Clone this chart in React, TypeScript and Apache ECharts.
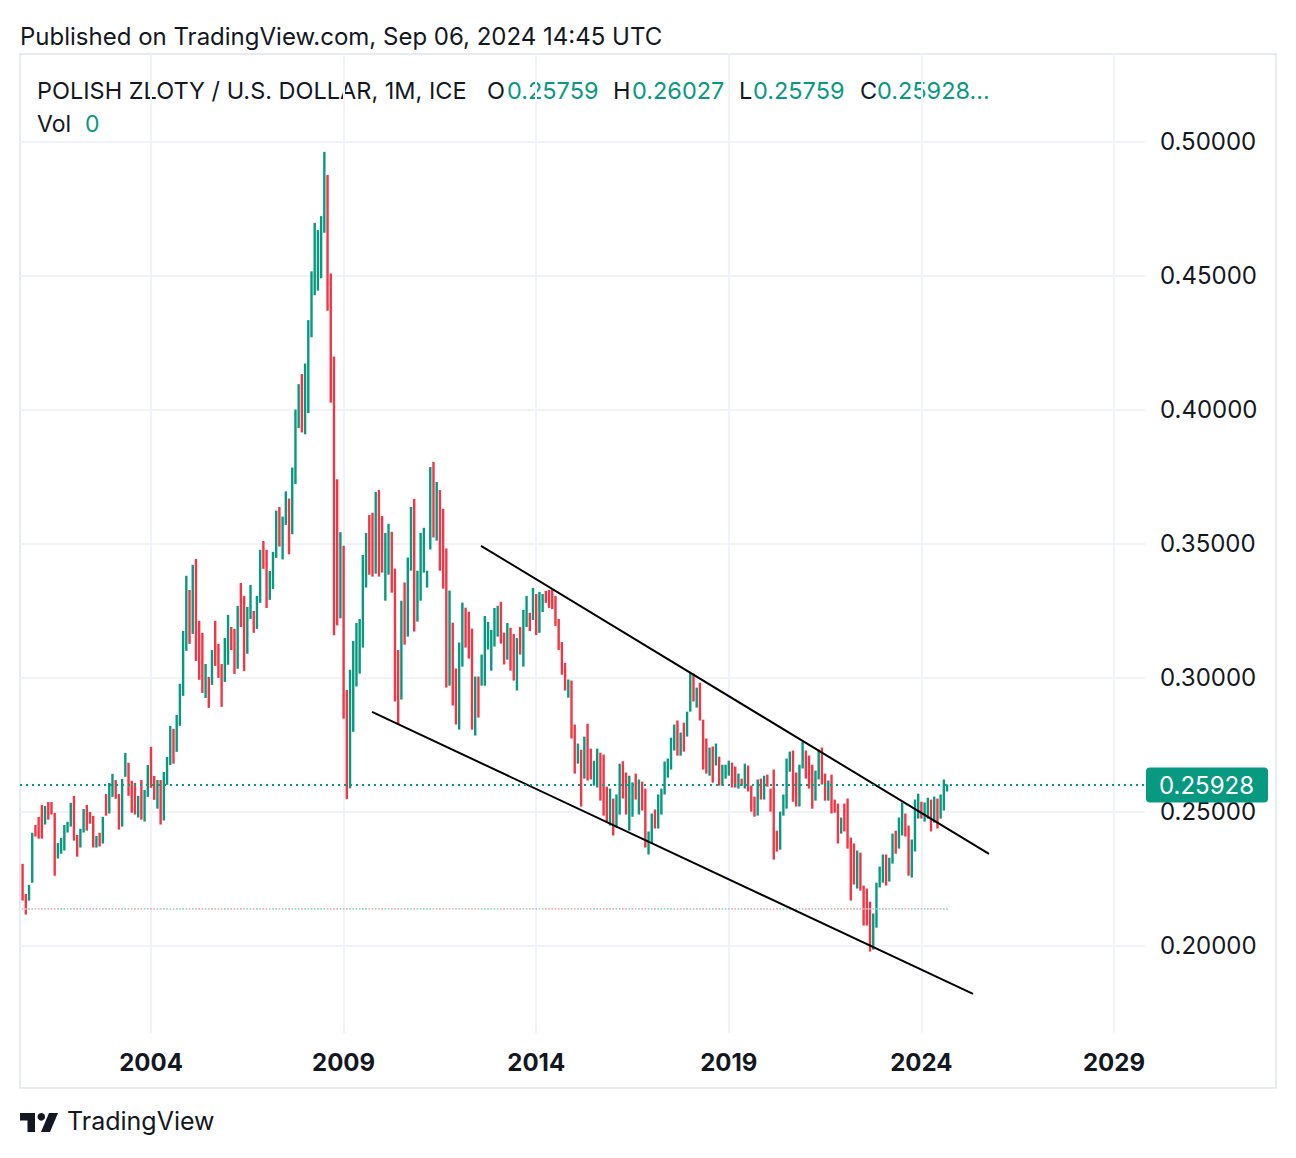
import React, { useEffect, useRef } from "react";
import * as echarts from "echarts";

// ---------- data ----------
const START_YEAR = 2000;
const START_MONTH = 9; // first monthly bar: Sep 2000

const highs = [
  0.2306, 0.2194, 0.2228, 0.2422, 0.2451, 0.2481, 0.2526, 0.2522, 0.2537, 0.2537,
  0.2496, 0.2384, 0.2403, 0.2451, 0.2463, 0.2534, 0.256, 0.2414, 0.2437, 0.2511,
  0.2526, 0.25, 0.2485, 0.241, 0.2422, 0.2481, 0.2567, 0.2608, 0.2642, 0.2619,
  0.2567, 0.2623, 0.272, 0.2683, 0.2616, 0.2608, 0.256, 0.2619, 0.2582, 0.2675,
  0.2743, 0.2634, 0.2619, 0.2619, 0.2649, 0.2705, 0.2821, 0.281, 0.2862, 0.2978,
  0.3175, 0.3381, 0.3328, 0.3422, 0.3444, 0.3213, 0.3168, 0.3052, 0.3004, 0.3104,
  0.3213, 0.3127, 0.3052, 0.3149, 0.3235, 0.319, 0.3183, 0.3269, 0.3354, 0.3306,
  0.3265, 0.3347, 0.325, 0.3306, 0.3478, 0.3511, 0.3478, 0.3399, 0.347, 0.3624,
  0.3638, 0.3602, 0.3696, 0.3669, 0.3785, 0.4001, 0.4096, 0.4134, 0.4173, 0.4335,
  0.4517, 0.4698, 0.4671, 0.4723, 0.4963, 0.4877, 0.4509, 0.4199, 0.3741, 0.3544,
  0.3493, 0.2955, 0.303, 0.3138, 0.3205, 0.322, 0.3459, 0.3541, 0.3608, 0.3616,
  0.3694, 0.3701, 0.3604, 0.3541, 0.3575, 0.3545, 0.3408, 0.3104, 0.3288, 0.3356,
  0.3449, 0.3638, 0.3668, 0.34, 0.3541, 0.356, 0.34, 0.3787, 0.3806, 0.3731,
  0.3701, 0.3631, 0.3483, 0.3326, 0.3206, 0.3035, 0.3132, 0.3281, 0.3262, 0.3247,
  0.3184, 0.3005, 0.3005, 0.3087, 0.3231, 0.3209, 0.3179, 0.3261, 0.3269, 0.3284,
  0.3169, 0.3205, 0.3187, 0.3164, 0.3149, 0.319, 0.3254, 0.3306, 0.3243, 0.3336,
  0.3313, 0.3321, 0.3313, 0.3325, 0.3328, 0.3332, 0.3306, 0.322, 0.3134, 0.3056,
  0.2994, 0.299, 0.2826, 0.2755, 0.2732, 0.2781, 0.2829, 0.2736, 0.2691, 0.2736,
  0.2721, 0.2714, 0.2594, 0.2587, 0.255, 0.2565, 0.268, 0.2689, 0.2647, 0.2635,
  0.261, 0.2643, 0.2621, 0.2613, 0.2587, 0.2427, 0.2494, 0.2509, 0.2565, 0.2587,
  0.2688, 0.2699, 0.2777, 0.2826, 0.2841, 0.2796, 0.2833, 0.2874, 0.302, 0.3016,
  0.2964, 0.2982, 0.2844, 0.2774, 0.274, 0.2744, 0.2755, 0.2706, 0.2676, 0.2676,
  0.2691, 0.2684, 0.2669, 0.2643, 0.2624, 0.268, 0.2673, 0.2598, 0.2557, 0.2621,
  0.2624, 0.2635, 0.2639, 0.2587, 0.2658, 0.243, 0.2501, 0.2565, 0.2699, 0.2725,
  0.2729, 0.2647, 0.2676, 0.2762, 0.2729, 0.271, 0.2676, 0.2654, 0.2732, 0.274,
  0.2643, 0.2617, 0.2639, 0.2546, 0.2531, 0.2479, 0.2531, 0.255, 0.2404, 0.2382,
  0.2356, 0.2348, 0.2225, 0.2214, 0.2165, 0.2121, 0.2236, 0.2296, 0.2341, 0.2341,
  0.2329, 0.2419, 0.243, 0.2479, 0.2535, 0.2494, 0.2449, 0.2397, 0.2546, 0.2568,
  0.2538, 0.2535, 0.2553, 0.2546, 0.2557, 0.255, 0.2565, 0.2621, 0.2603,
];

const lows = [
  0.2169, 0.2117, 0.2169, 0.2236, 0.2408, 0.24, 0.24, 0.2453, 0.2471, 0.249,
  0.2262, 0.2326, 0.2344, 0.2356, 0.2423, 0.2445, 0.2393, 0.2333, 0.2367, 0.2423,
  0.243, 0.2456, 0.2367, 0.2367, 0.2371, 0.2382, 0.2486, 0.2494, 0.2556, 0.2549,
  0.2434, 0.2445, 0.2631, 0.256, 0.2497, 0.249, 0.2479, 0.2471, 0.2464, 0.2556,
  0.259, 0.2545, 0.2512, 0.2453, 0.2468, 0.2601, 0.2675, 0.268, 0.2724, 0.2821,
  0.2933, 0.3101, 0.3127, 0.3164, 0.3063, 0.2993, 0.2944, 0.2925, 0.2888, 0.2974,
  0.3045, 0.3, 0.2892, 0.2985, 0.3049, 0.3104, 0.3015, 0.3034, 0.319, 0.3026,
  0.309, 0.322, 0.3168, 0.3183, 0.328, 0.3407, 0.3261, 0.3291, 0.3332, 0.3448,
  0.349, 0.3442, 0.3571, 0.3461, 0.3536, 0.3723, 0.3932, 0.3916, 0.3909, 0.3988,
  0.4271, 0.4428, 0.4445, 0.4491, 0.4661, 0.437, 0.4027, 0.3159, 0.3196, 0.3222,
  0.2848, 0.2548, 0.2588, 0.2799, 0.2968, 0.3016, 0.3113, 0.3337, 0.3385, 0.3378,
  0.3389, 0.3378, 0.3393, 0.3288, 0.3385, 0.3318, 0.2912, 0.2826, 0.2919, 0.3124,
  0.3154, 0.34, 0.3173, 0.321, 0.3288, 0.3393, 0.3337, 0.3479, 0.3524, 0.3512,
  0.34, 0.3333, 0.2964, 0.2971, 0.2897, 0.2826, 0.2807, 0.3042, 0.3113, 0.3072,
  0.2807, 0.2785, 0.2852, 0.2971, 0.2971, 0.3106, 0.3027, 0.3117, 0.3154, 0.3128,
  0.305, 0.3068, 0.3027, 0.299, 0.2953, 0.3087, 0.3042, 0.319, 0.3175, 0.3216,
  0.316, 0.3168, 0.3246, 0.328, 0.3261, 0.3257, 0.3194, 0.3104, 0.3012, 0.2953,
  0.2926, 0.2774, 0.2643, 0.268, 0.252, 0.2624, 0.2617, 0.2621, 0.2598, 0.2591,
  0.2542, 0.2486, 0.2464, 0.2449, 0.2412, 0.2441, 0.249, 0.255, 0.249, 0.243,
  0.2482, 0.2546, 0.249, 0.2505, 0.2367, 0.2341, 0.2382, 0.2438, 0.2438, 0.249,
  0.2565, 0.2628, 0.2658, 0.2729, 0.271, 0.271, 0.2725, 0.2781, 0.2874, 0.2912,
  0.2889, 0.2841, 0.2658, 0.2643, 0.2635, 0.2609, 0.2673, 0.2598, 0.2598, 0.2624,
  0.2635, 0.2591, 0.2591, 0.2587, 0.2598, 0.2587, 0.2576, 0.2501, 0.2482, 0.2486,
  0.2546, 0.2546, 0.2594, 0.2501, 0.2322, 0.2352, 0.2359, 0.2486, 0.2512, 0.265,
  0.2538, 0.252, 0.252, 0.2662, 0.2624, 0.2587, 0.2512, 0.2542, 0.2621, 0.2602,
  0.2542, 0.2542, 0.2494, 0.2497, 0.2382, 0.2419, 0.2427, 0.2363, 0.2169, 0.2229,
  0.2214, 0.2206, 0.2076, 0.2076, 0.1979, 0.1986, 0.2068, 0.2218, 0.2236, 0.2225,
  0.224, 0.2307, 0.2344, 0.2363, 0.2412, 0.2408, 0.2262, 0.2255, 0.2352, 0.2475,
  0.2475, 0.2464, 0.2475, 0.2427, 0.246, 0.2438, 0.2475, 0.2505, 0.2576,
];

// 1 = month closed up (green), 0 = closed down (red)
const rising = [
  0, 0, 1, 1, 0, 0, 0, 1, 0, 0,
  0, 1, 1, 1, 1, 1, 0, 0, 1, 1,
  0, 0, 0, 1, 0, 1, 0, 1, 1, 0,
  0, 1, 1, 0, 0, 0, 1, 0, 1, 1,
  0, 0, 1, 0, 1, 1, 1, 0, 1, 1,
  1, 1, 0, 1, 0, 0, 0, 1, 0, 1,
  0, 0, 0, 1, 1, 0, 0, 1, 0, 0,
  1, 1, 0, 1, 1, 0, 0, 1, 1, 1,
  0, 1, 1, 0, 1, 1, 1, 0, 1, 1,
  1, 1, 1, 1, 1, 0, 0, 0, 0, 1,
  0, 0, 1, 1, 1, 1, 1, 1, 0, 0,
  1, 0, 0, 1, 1, 0, 0, 0, 1, 0,
  1, 1, 0, 1, 1, 1, 1, 1, 0, 1,
  0, 0, 0, 1, 0, 0, 1, 1, 0, 0,
  0, 1, 0, 1, 1, 1, 1, 1, 1, 0,
  0, 1, 0, 0, 1, 0, 1, 1, 0, 1,
  0, 1, 1, 0, 0, 0, 0, 0, 0, 0,
  1, 0, 0, 1, 0, 1, 0, 0, 1, 1,
  0, 0, 0, 1, 0, 1, 1, 0, 0, 1,
  1, 0, 1, 0, 0, 1, 1, 0, 1, 1,
  1, 1, 1, 1, 0, 1, 0, 1, 1, 0,
  1, 0, 0, 0, 1, 0, 1, 0, 1, 1,
  1, 0, 0, 1, 0, 1, 0, 0, 0, 1,
  0, 1, 0, 0, 0, 0, 1, 1, 1, 1,
  0, 0, 1, 1, 0, 0, 0, 1, 1, 0,
  0, 1, 0, 0, 0, 1, 0, 0, 0, 0,
  1, 0, 0, 0, 0, 1, 1, 1, 1, 0,
  1, 1, 0, 1, 1, 0, 0, 1, 1, 1,
  0, 1, 1, 0, 1, 0, 1, 1, 1,
];

const lastBar = { open: 0.25759, high: 0.26027, low: 0.25759, close: 0.25928 };
const volumeBase = 0.2138; // zero-volume baseline of the overlaid volume pane
const yTicks = [0.2, 0.25, 0.3, 0.35, 0.4, 0.45, 0.5];
const xTicks = [2004, 2009, 2014, 2019, 2024, 2029];
const upperChannel = [
  [2012.567, 0.3493],
  [2025.755, 0.2343],
];
const lowerChannel = [
  [2009.737, 0.2873],
  [2025.34, 0.1821],
];

// ---------- styling ----------
const GREEN = "#089981";
const RED = "#F23645";
const TEXT = "#131722";
const FONT = 'Inter, "Noto Sans", Roboto, sans-serif';

export default function App() {
  const ref = useRef<HTMLDivElement>(null);

  useEffect(() => {
    if (!ref.current) return;
    const chart = echarts.init(ref.current, null, { renderer: "svg" });

    const barData = highs.map((h, i) => [
      START_YEAR + (START_MONTH - 1 + i) / 12,
      h,
      lows[i],
      rising[i],
    ]);

    const txt = (text: string, x: number, y: number, opts: any = {}) => ({
      type: "text",
      x,
      y,
      silent: true,
      style: {
        text,
        fill: opts.fill || TEXT,
        fontSize: opts.fontSize || 23.5,
        fontFamily: FONT,
        fontWeight: opts.fontWeight || "normal",
        verticalAlign: "middle",
        align: "left",
      },
    });

    chart.setOption({
      animation: false,
      backgroundColor: "#ffffff",
      grid: { left: 20, right: 151, top: 54, bottom: 125, containLabel: false, outerBoundsMode: "none" },
      xAxis: {
        type: "value",
        min: 2000.599,
        max: 2029.805,
        axisLine: { show: false },
        axisTick: { show: false, customValues: xTicks },
        axisLabel: {
          customValues: xTicks,
          formatter: (v: number) => String(Math.round(v)),
          color: TEXT,
          fontSize: 24,
          fontWeight: "bold",
          fontFamily: FONT,
          margin: 17,
        },
        splitLine: { show: true, lineStyle: { color: "#f0f3fa", width: 2 } },
      },
      yAxis: {
        type: "value",
        position: "right",
        min: 0.1675,
        max: 0.5328,
        axisLine: { show: false },
        axisTick: { show: false, customValues: yTicks },
        axisLabel: {
          customValues: yTicks,
          formatter: (v: number) => v.toFixed(5),
          color: TEXT,
          fontSize: 24,
          fontFamily: FONT,
          align: "left",
          margin: 15,
        },
        splitLine: { show: true, lineStyle: { color: "#f0f3fa", width: 2 } },
      },
      series: [
        {
          type: "custom",
          name: "PLNUSD",
          data: barData,
          encode: { x: 0, y: [1, 2] },
          z: 2,
          renderItem: (params: any, api: any) => {
            const x = api.value(0);
            const hi = api.coord([x, api.value(1)]);
            const lo = api.coord([x, api.value(2)]);
            const vb = api.coord([x, volumeBase]);
            const up = api.value(3) === 1;
            const w = 2.4;
            return {
              type: "group",
              children: [
                {
                  type: "rect",
                  shape: { x: hi[0] - w / 2, y: hi[1], width: w, height: Math.max(lo[1] - hi[1], 1) },
                  style: { fill: up ? GREEN : RED },
                },
                {
                  type: "rect",
                  shape: { x: vb[0] - 0.8, y: vb[1] - 0.8, width: 1.6, height: 1.6 },
                  style: { fill: up ? "#8fd3c6" : "#f6a6ac" },
                },
              ],
            };
          },
        },
        {
          type: "line",
          data: upperChannel,
          symbol: "none",
          silent: true,
          z: 4,
          lineStyle: { color: "#000000", width: 2 },
          markLine: {
            symbol: "none",
            silent: true,
            animation: false,
            data: [{ yAxis: lastBar.close }],
            lineStyle: { color: GREEN, type: [2, 4], width: 2 },
            label: {
              show: true,
              position: "end",
              distance: 1,
              formatter: () => lastBar.close.toFixed(5),
              color: "#ffffff",
              backgroundColor: GREEN,
              fontSize: 24,
              fontFamily: FONT,
              padding: [6, 14, 5, 13],
              borderRadius: 4,
            },
          },
        },
        {
          type: "line",
          data: lowerChannel,
          symbol: "none",
          silent: true,
          z: 4,
          lineStyle: { color: "#000000", width: 2 },
        },
      ],
      graphic: [
        {
          type: "rect",
          silent: true,
          z: -1,
          shape: { x: 20, y: 54, width: 1256, height: 1034 },
          style: { fill: "none", stroke: "#e0e3eb", lineWidth: 1.5 },
        },
        txt("Published on TradingView.com, Sep 06, 2024 14:45 UTC", 20, 36, { fontSize: 24 }),
        txt("POLISH ZLOTY / U.S. DOLLAR, 1M, ICE", 37, 90),
        txt("O", 487, 90),
        txt(lastBar.open.toFixed(5), 507, 90, { fill: GREEN }),
        txt("H", 613, 90),
        txt(lastBar.high.toFixed(5), 632, 90, { fill: GREEN }),
        txt("L", 739, 90),
        txt(lastBar.low.toFixed(5), 753, 90, { fill: GREEN }),
        txt("C", 860, 90),
        txt(lastBar.close.toFixed(5) + "...", 877, 90, { fill: GREEN }),
        txt("Vol", 37, 124, { fontSize: 23 }),
        txt("0", 85, 124, { fill: GREEN, fontSize: 23 }),
        {
          type: "group",
          x: 20,
          y: 1113,
          silent: true,
          children: [
            { type: "polygon", shape: { points: [[0, 0], [15, 0], [15, 19], [7.5, 19], [7.5, 7.5], [0, 7.5]] }, style: { fill: TEXT } },
            { type: "circle", shape: { cx: 21.3, cy: 3.8, r: 3.8 }, style: { fill: TEXT } },
            { type: "polygon", shape: { points: [[21, 19], [29, 0], [38, 0], [30, 19]] }, style: { fill: TEXT } },
          ],
        },
        txt("TradingView", 67, 1121, { fontSize: 25 }),
      ],
    });

    return () => chart.dispose();
  }, []);

  return (
    <div
      ref={ref}
      style={{ position: "fixed", left: 0, top: 0, width: 1296, height: 1158, background: "#ffffff" }}
    />
  );
}
